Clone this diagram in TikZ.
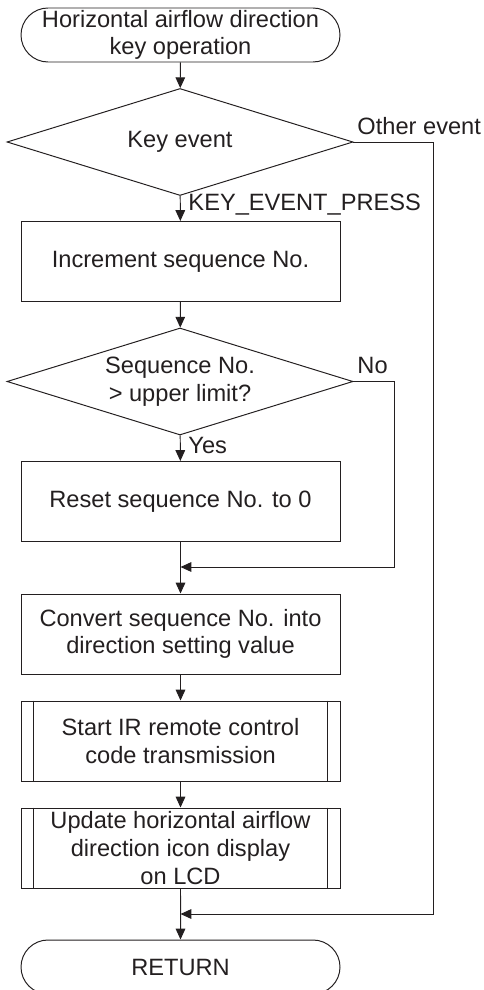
\documentclass[tikz,border=0pt]{standalone}
\usepackage{fontspec}
\setmainfont{Liberation Sans}
\usetikzlibrary{shapes.geometric,shapes.misc,arrows.meta}
\definecolor{ink}{HTML}{231F20}
\tikzset{
  term/.style={draw=ink, rounded rectangle, minimum width=319*0.025cm, minimum height=54*0.025cm, inner sep=0pt, align=center},
  proc/.style={draw=ink, rectangle, minimum width=319*0.025cm, minimum height=80*0.025cm, inner sep=0pt, align=center},
  decide/.style={draw=ink, diamond, aspect=3.2, minimum width=346*0.025cm, minimum height=107*0.025cm, inner sep=0pt, align=center},
  lbl/.style={inner sep=0pt, text=ink},
  flow/.style={draw=ink, -{Triangle[length=0.27cm,width=0.24cm]}},
  wire/.style={draw=ink}
}

\begin{document}
\begin{tikzpicture}[x=0.025cm, y=-0.025cm, line width=0.7pt, font=\fontsize{16.8}{19.6}\selectfont, text=ink]
            \useasboundingbox (0,0) rectangle (484,990);

            \node[term] (start) at (180.5,35) {Horizontal airflow direction\\key operation};
            \node[decide] (key) at (180,142) {Key event};
            \node[proc] (inc) at (180.5,261.5) {Increment sequence No.};
            \node[decide] (seq) at (180,381.5) {Sequence No.\\\textgreater{} upper limit?};
            \node[proc] (reset) at (180.5,501.5) {Reset sequence No. to 0};
            \node[proc] (conv) at (180.5,634) {Convert sequence No. into\\direction setting value};
            \node[proc] (ir) at (180.5,741) {Start IR remote control\\code transmission};
            \node[proc] (lcd) at (180.5,848) {Update horizontal airflow\\direction icon display\\on LCD};
            \node[term] (ret) at (180.5,967) {RETURN};

            % side bars of the predefined processes
            \foreach \p in {ir,lcd} {
                \draw[wire] ([xshift=13*0.025cm]\p.north west) -- ([xshift=13*0.025cm]\p.south west);
                \draw[wire] ([xshift=-13*0.025cm]\p.north east) -- ([xshift=-13*0.025cm]\p.south east);
            }

            \coordinate (j1) at (180.5,567);
            \coordinate (j2) at (180.5,914);

            \draw[flow] (start) -- (key);
            \draw[flow] (key) -- (inc);
            \draw[flow] (inc) -- (seq);
            \draw[flow] (seq) -- (reset);
            \draw[flow] (reset) -- (conv);
            \draw[flow] (conv) -- (ir);
            \draw[flow] (ir) -- (lcd);
            \draw[flow] (lcd) -- (ret);

            \draw[flow] (seq.east) -- (394,381.5) -- (394,567) -- (j1);
            \draw[flow] (key.east) -- (433,142) -- (433,914) -- (j2);

            \node[lbl, anchor=west] (press) at (188,205) {KEY\_EVENT\_PRESS};
            \node[lbl, anchor=west] (yes) at (188,445) {Yes};
            \node[lbl, anchor=south west] (no) at (357,374) {No};
            \node[lbl, anchor=south west] (other) at (357,135) {Other event};
        \end{tikzpicture}
\end{document}
